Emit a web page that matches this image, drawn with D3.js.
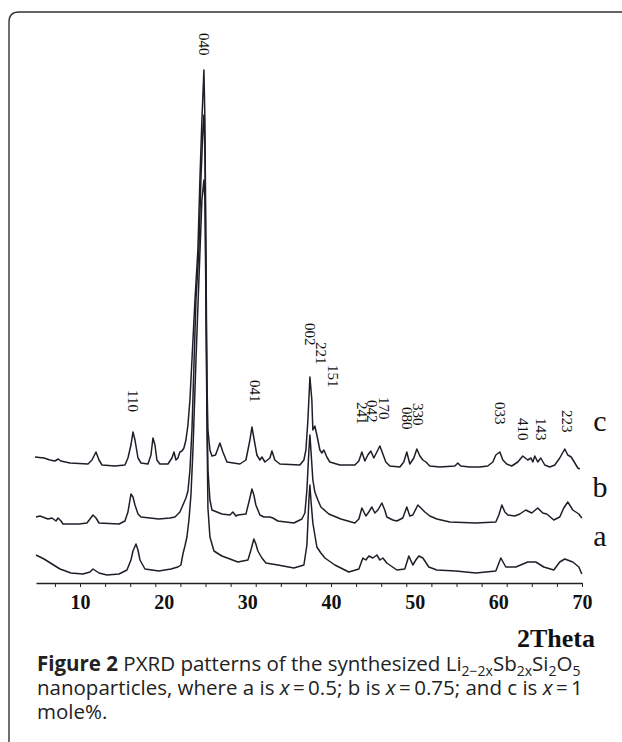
<!DOCTYPE html>
<html>
<head>
<meta charset="utf-8">
<script src="https://cdn.jsdelivr.net/npm/d3@7/dist/d3.min.js"></script>
<style>
  body { margin: 0; background: #fff; }
  .axis text { font-family: 'Liberation Serif', 'Times New Roman', serif; font-weight: bold; font-size: 20px; fill: #111; }
  .hkl { font-family: 'Liberation Serif', 'Times New Roman', serif; font-size: 15px; fill: #111; }
  .caption { font-family: 'Open Sans', 'Noto Sans', sans-serif; font-size: 20.5px; fill: #222; }
  .sub { font-size: 14px; }
</style>
</head>
<body>
<div class="xrd-chart"></div>
<script>
// [2theta, intensity above own baseline]
const patternA = [
  [4.74, 13], [5.70, 9], [6.65, 4], [7.61, -1], [8.92, -5], [10.36, -6], [11.19, -4], [11.55, -1],
  [11.91, -3], [12.27, -5], [13.22, -7], [14.66, -6], [15.61, -2], [16.09, 8], [16.33, 17], [16.69, 24],
  [16.93, 18], [17.17, 8], [17.76, -1], [19.43, -3], [20.87, -1], [21.7, 1], [22.06, 3], [22.30, 14],
  [22.54, 22], [22.78, 31], [23.02, 48], [23.26, 73], [23.50, 118], [23.86, 208], [24.21, 288],
  [24.57, 368], [24.81, 388], [24.93, 368], [25.05, 268], [25.17, 148], [25.29, 60], [25.53, 31],
  [26.01, 17], [26.96, 12], [27.92, 9], [28.87, 6], [30.07, 8], [30.43, 18], [30.78, 29], [31.02, 24],
  [31.26, 17], [31.74, 10], [32.22, 5], [33.65, 3], [35.56, 0], [36.76, 3], [37.12, 23], [37.36, 68],
  [37.48, 83], [37.6, 68], [37.83, 45], [38.31, 21], [38.79, 15], [39.27, 10], [40.46, 3], [42.13, -4],
  [43.33, -1], [43.81, 10], [44.17, 8], [44.52, 12], [45.00, 10], [45.48, 13], [45.84, 8], [46.20, 10],
  [46.67, 5], [47.87, -2], [48.82, -1], [49.30, 12], [49.78, 3], [50.14, 8], [50.50, 12], [50.98, 10],
  [51.69, 1], [52.65, -2], [54.92, -3], [57.31, -5], [59.70, -3], [60.30, 10], [60.89, 1], [62.09, 1],
  [63.52, 6], [64.48, 6], [65.43, 1], [66.63, -2], [67.34, 6], [67.94, 9], [68.90, 6], [69.62, 1],
  [69.98, -6]
];

const patternB = [
  [4.74, 4], [5.22, 5], [6.17, 2], [6.65, 3], [7.13, 0], [7.37, 3], [7.73, 0], [7.97, -3], [9.88, -3],
  [10.83, -2], [11.55, 6], [11.91, 3], [12.27, -2], [14.66, -3], [15.37, 0], [15.73, 9], [16.09, 27],
  [16.33, 24], [16.57, 16], [16.93, 7], [17.29, 4], [19.43, 2], [20.75, 3], [21.35, 4], [21.94, 9],
  [22.30, 16], [22.66, 23], [22.90, 30], [23.14, 51], [23.38, 91], [23.86, 221], [24.21, 271],
  [24.45, 341], [24.69, 391], [24.81, 406], [24.93, 371], [25.05, 241], [25.17, 121], [25.29, 51],
  [25.53, 21], [25.77, 11], [26.96, 7], [27.92, 6], [28.27, 9], [28.63, 5], [28.87, 6], [29.83, 7],
  [30.19, 19], [30.55, 32], [30.78, 26], [31.02, 16], [31.50, 6], [31.98, 4], [32.7, 4], [33.05, 3],
  [33.65, 0], [35.56, -2], [36.52, 2], [36.88, 8], [37.12, 31], [37.36, 71], [37.48, 86], [37.6, 71],
  [37.83, 41], [38.07, 29], [38.43, 21], [38.79, 14], [39.74, 7], [41.18, 2], [42.85, -2], [43.33, 2],
  [43.69, 13], [44.17, 5], [44.52, 9], [44.88, 14], [45.24, 8], [45.6, 11], [46.08, 18], [46.43, 11],
  [46.67, 4], [47.39, 1], [47.87, 0], [48.58, 3], [49.06, 14], [49.42, 5], [49.78, 6], [50.38, 16],
  [50.74, 13], [51.22, 9], [51.81, 5], [52.65, 2], [54.2, -1], [57.31, -2], [59.70, -1], [60.06, 6],
  [60.42, 16], [60.78, 9], [61.13, 6], [61.97, 5], [62.57, 7], [63.28, 11], [64.00, 8], [64.71, 13],
  [65.31, 8], [65.79, 7], [66.63, 1], [67.34, 4], [67.82, 13], [68.30, 19], [68.90, 11], [69.26, 9],
  [69.62, 7], [69.98, 3]
];

const patternC = [
  [4.62, 9], [5.70, 8], [6.4, 6], [7.0, 5], [7.4, 7], [7.7, 5], [8.80, 3], [10.95, 2], [11.43, 6],
  [11.91, 14], [12.27, 6], [12.63, 1], [14.18, 0], [15.37, 1], [15.73, 8], [16.09, 21], [16.33, 34],
  [16.57, 26], [16.93, 8], [17.29, 3], [18.12, 2], [18.48, 11], [18.72, 28], [18.96, 21], [19.19, 6],
  [19.55, 2], [20.51, 2], [20.99, 8], [21.23, 14], [21.47, 6], [21.70, 8], [21.94, 14], [22.18, 15],
  [22.42, 18], [22.66, 26], [22.90, 41], [23.14, 66], [23.38, 106], [23.74, 166], [24.09, 216],
  [24.33, 286], [24.57, 346], [24.81, 396], [24.93, 346], [25.05, 216], [25.17, 86], [25.29, 36],
  [25.53, 16], [25.77, 10], [26.2, 11], [26.72, 23], [27.08, 14], [27.56, 4], [29.11, 2], [29.83, 6],
  [30.31, 26], [30.55, 39], [30.78, 28], [31.14, 11], [31.50, 6], [31.74, 9], [32.10, 4], [32.70, 8],
  [32.94, 15], [33.29, 6], [33.89, 2], [36.28, 1], [36.76, 6], [37.00, 16], [37.24, 46], [37.48, 89],
  [37.71, 66], [37.83, 36], [38.07, 40], [38.31, 31], [38.67, 16], [38.91, 13], [39.15, 16], [39.50, 9],
  [39.86, 4], [41.06, 1], [42.85, 1], [43.33, 5], [43.69, 14], [44.05, 5], [44.40, 11], [44.76, 15],
  [45.12, 8], [45.48, 14], [45.84, 20], [46.20, 12], [46.55, 4], [47.03, 0], [48.23, -1], [48.7, 4],
  [49.06, 14], [49.42, 2], [49.9, 8], [50.26, 17], [50.62, 10], [50.98, 6], [51.34, 4], [51.81, 0],
  [53.01, -1], [54.8, 0], [55.16, 3], [55.5, 0], [56.59, -1], [57.79, -1], [58.74, 0], [59.34, 4],
  [59.70, 11], [60.18, 14], [60.54, 6], [61.0, 2], [61.6, 0], [62.33, 4], [62.92, 10], [63.52, 6],
  [63.9, 8], [64.12, 4], [64.36, 10], [64.71, 4], [65.07, 8], [65.55, 1], [66.15, -1], [66.75, 1],
  [67.34, 8], [67.94, 17], [68.30, 11], [68.7, 9], [69.0, 5], [69.50, -2], [69.74, -3]
];

const seriesNames = ['a', 'b', 'c'];
const seriesOffset = [15, 62, 117];

const peakHkl = ['040', '110', '041', '002', '221', '151', '241', '042', '170', '080', '330', '033', '410', '143', '223'];
const peakTheta = [24.81, 16.33, 30.9, 37.48, 38.79, 40.22, 43.69, 44.88, 46.32, 49.06, 50.38, 60.18, 62.92, 65.07, 68.18];

const xTickLabels = [10, 20, 30, 40, 50, 60, 70];

// layout
const svgWidth = 622;
const svgHeight = 742;
const axisY = 583;
const labelTop = [33, 390, 380, 323, 342, 365, 402, 400, 397, 407, 403, 402, 418, 418, 410];
const nameY = [546, 497, 431];

const xScale = d3.scaleLinear().domain([4.74, 70]).range([36, 582]);
const yScale = d3.scaleLinear().domain([0, 520]).range([axisY, axisY - 520]);

const svg = d3.select('.xrd-chart').append('svg')
  .attr('width', svgWidth)
  .attr('height', svgHeight);

svg.append('rect').attr('width', svgWidth).attr('height', svgHeight).attr('fill', '#fff');

// panel frame, rounded top-left corner
svg.append('path')
  .attr('d', `M9,${svgHeight} V22 Q9,12 19,12 H${svgWidth}`)
  .attr('fill', 'none')
  .attr('stroke', '#333')
  .attr('stroke-width', 1.4);

[patternA, patternB, patternC].forEach((pattern, i) => {
  const line = d3.line()
    .x((d) => xScale(d[0]))
    .y((d) => yScale(d[1] + seriesOffset[i]));

  svg.append('path')
    .datum(pattern)
    .attr('d', line)
    .attr('fill', 'none')
    .attr('stroke', '#1e1e28')
    .attr('stroke-width', 1.5)
    .attr('stroke-linejoin', 'round');

  svg.append('text')
    .attr('x', 600)
    .attr('y', nameY[i])
    .attr('text-anchor', 'middle')
    .style('font-family', "'Liberation Serif', 'Times New Roman', serif")
    .style('font-size', '30px')
    .style('fill', '#111')
    .text(seriesNames[i]);
});

// hkl labels, vertical
peakHkl.forEach((hkl, i) => {
  svg.append('text')
    .attr('class', 'hkl')
    .attr('transform', `translate(${xScale(peakTheta[i])}, ${labelTop[i]}) rotate(90)`)
    .attr('dominant-baseline', 'central')
    .text(hkl);
});

// x axis: minor ticks every 3 deg, labels every 10 deg
const tickAxis = svg.append('g')
  .attr('class', 'axis')
  .attr('transform', `translate(0, ${axisY})`)
  .call(d3.axisBottom(xScale)
    .tickValues(d3.range(7, 71, 3))
    .tickSize(4)
    .tickSizeOuter(0)
    .tickFormat(''));
tickAxis.select('.domain').attr('stroke', '#222').attr('stroke-width', 1.3);
tickAxis.selectAll('.tick line').attr('stroke', '#222');

const labelAxis = svg.append('g')
  .attr('class', 'axis')
  .attr('transform', `translate(0, ${axisY})`)
  .call(d3.axisBottom(xScale)
    .tickValues(xTickLabels)
    .tickSize(0)
    .tickPadding(12));
labelAxis.select('.domain').remove();

svg.append('text')
  .attr('x', 595)
  .attr('y', 647)
  .attr('text-anchor', 'end')
  .style('font-family', "'Liberation Serif', 'Times New Roman', serif")
  .style('font-weight', 'bold')
  .style('font-size', '26px')
  .style('fill', '#111')
  .text('2Theta');

// caption
const capX = 37;
const cap1 = svg.append('text').attr('class', 'caption').attr('x', capX).attr('y', 671);
cap1.append('tspan').style('font-weight', 'bold').text('Figure 2');
cap1.append('tspan').text(' PXRD patterns of the synthesized Li');
const subs = [['2\u22122x', 'Sb'], ['2x', 'Si'], ['2', 'O'], ['5', '']];
subs.forEach(([sub, next]) => {
  cap1.append('tspan').attr('class', 'sub').attr('dy', 5).text(sub);
  if (next) cap1.append('tspan').attr('dy', -5).text(next);
});

const cap2 = svg.append('text').attr('class', 'caption').attr('x', capX).attr('y', 695);
cap2.append('tspan').text('nanoparticles, where a is ');
cap2.append('tspan').style('font-style', 'italic').text('x');
cap2.append('tspan').text('\u2009=\u20090.5; b is ');
cap2.append('tspan').style('font-style', 'italic').text('x');
cap2.append('tspan').text('\u2009=\u20090.75; and c is ');
cap2.append('tspan').style('font-style', 'italic').text('x');
cap2.append('tspan').text('\u2009=\u20091');

svg.append('text').attr('class', 'caption').attr('x', capX).attr('y', 719).text('mole%.');
</script>
</body>
</html>
